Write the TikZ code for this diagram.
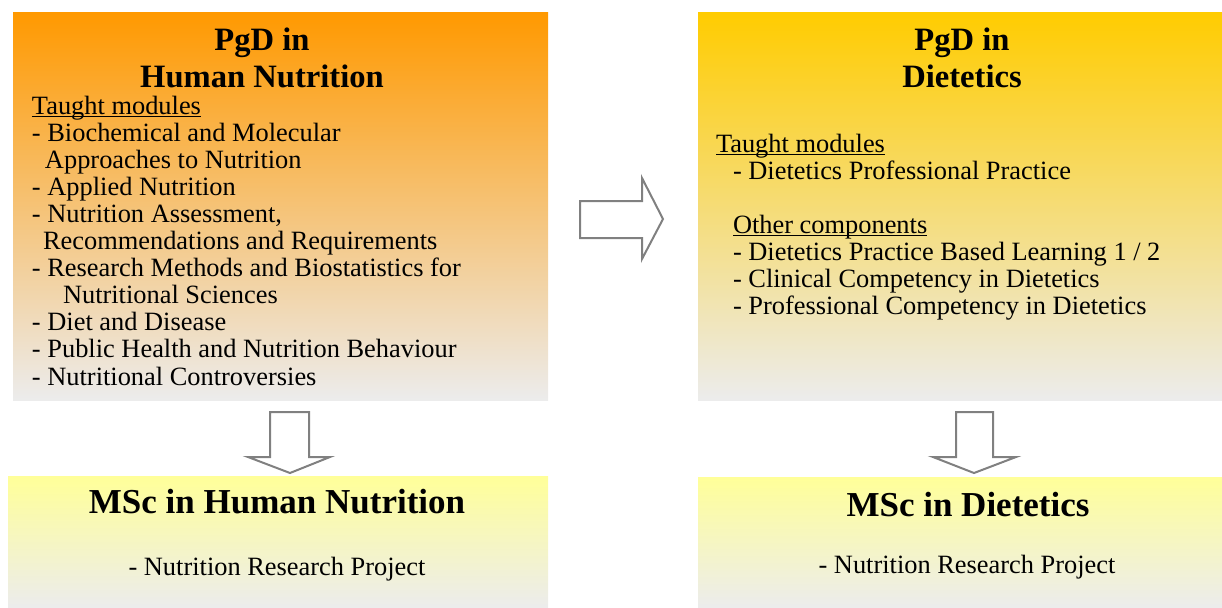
\documentclass[tikz,border=0pt]{standalone}
\usepackage{fontspec}
\setmainfont{Liberation Serif}
\definecolor{cff9900}{RGB}{255,153,0}
\definecolor{cf5c39b}{RGB}{246,196,158}
\definecolor{cffcc00}{RGB}{255,204,0}
\definecolor{cf6d79a}{RGB}{246,216,154}
\definecolor{cffff99}{RGB}{255,255,153}
\definecolor{cebebeb}{RGB}{236,236,236}
\definecolor{c808080}{RGB}{128,128,128}
\newcommand{\modhead}[1]{\underline{\smash{#1}}}

\begin{document}
\begin{tikzpicture}[x=0.5pt, y=-0.5pt, inner sep=0pt, outer sep=0pt,
  bodytext/.style={anchor=base west, font=\fontsize{13.2pt}{13.6pt}\selectfont},
  subtext/.style={anchor=base, font=\fontsize{13.2pt}{13.6pt}\selectfont},
  pgdtitle/.style={anchor=base, font=\fontsize{16.3pt}{18.5pt}\selectfont\bfseries},
  msctitle/.style={anchor=base, font=\fontsize{17.5pt}{20pt}\selectfont\bfseries},
  blockarrow/.style={draw=c808080, fill=white, line width=1pt, line join=miter}]
  \useasboundingbox (0,0) rectangle (1222,607);

  % shaded boxes
  \path[top color=cff9900, middle color=cf5c39b, bottom color=cebebeb] (13,12) rectangle (548,400);
  \path[top color=cffcc00, middle color=cf6d79a, bottom color=cebebeb] (698,12) rectangle (1222,400);
  \path[top color=cffff99, bottom color=cebebeb] (8,476) rectangle (548,607);
  \path[top color=cffff99, bottom color=cebebeb] (698,477) rectangle (1222,607);

  % PgD in Human Nutrition
  \node[pgdtitle] (hntitle1) at (262,50) {PgD in};
  \node[pgdtitle] (hntitle2) at (262,87) {Human Nutrition};
  \foreach \x/\t [count=\i] in {
      32/{\modhead{Taught modules}},
      32/{- Biochemical and Molecular},
      45/{Approaches to Nutrition},
      32/{- Applied Nutrition},
      32/{- Nutrition Assessment,},
      43/{Recommendations and Requirements},
      32/{- Research Methods and Biostatistics for},
      63/{Nutritional Sciences},
      32/{- Diet and Disease},
      32/{- Public Health and Nutrition Behaviour},
      32/{- Nutritional Controversies}}
    \node[bodytext] (hnline\i) at (\x,{114+(\i-1)*27.1}) {\t};

  % PgD in Dietetics
  \node[pgdtitle] (dttitle1) at (962,50) {PgD in};
  \node[pgdtitle] (dttitle2) at (962,87) {Dietetics};
  \node[bodytext] (dtline1) at (716,152) {\modhead{Taught modules}};
  \node[bodytext] (dtline2) at (733,179) {- Dietetics Professional Practice};
  \node[bodytext] (dtline3) at (733,233) {\modhead{Other components}};
  \node[bodytext] (dtline4) at (733,260) {- Dietetics Practice Based Learning 1 / 2};
  \node[bodytext] (dtline5) at (733,287) {- Clinical Competency in Dietetics};
  \node[bodytext] (dtline6) at (733,314) {- Professional Competency in Dietetics};

  % MSc boxes
  \node[msctitle] (hnmsc) at (277,513) {MSc in Human Nutrition};
  \node[subtext] (hnproj) at (277,575) {- Nutrition Research Project};
  \node[msctitle] (dtmsc) at (968,516) {MSc in Dietetics};
  \node[subtext] (dtproj) at (967,573) {- Nutrition Research Project};

  % block arrows
  \path[blockarrow] (580,201) -- (642,201) -- (642,178) -- (663,219) -- (642,259)
    -- (642,238) -- (580,238) -- cycle;
  \path[blockarrow] (270,412) -- (309,412) -- (309,457) -- (330,457) -- (290,473)
    -- (248,457) -- (270,457) -- cycle;
  \path[blockarrow] (956,412) -- (993,412) -- (993,457) -- (1016,457) -- (974,473)
    -- (933,457) -- (956,457) -- cycle;
\end{tikzpicture}
\end{document}
